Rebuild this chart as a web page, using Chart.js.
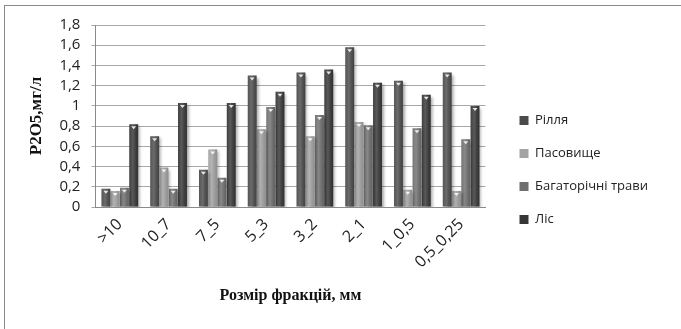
<!DOCTYPE html>
<html>
<head>
<meta charset="utf-8">
<script src="https://cdn.jsdelivr.net/npm/chart.js@4"></script>
<style>
  html, body { margin: 0; padding: 0; background: #fff; }
  #wrap { position: relative; width: 681px; height: 329px; }
  #frame { position: absolute; left: 4px; top: 5px; right: -2px; bottom: -2px;
           border-left: 1px solid #8a8a8a; border-top: 1px solid #8a8a8a; pointer-events: none; }
  canvas { position: absolute; left: 0; top: 0; }
</style>
</head>
<body>
<div id="wrap">
  <canvas id="c" width="681" height="329"></canvas>
  <div id="frame"></div>
</div>
<script>
// Фракції ґрунту та вміст P2O5 за типами угідь
const fractions = ['>10', '10_7', '7_5', '5_3', '3_2', '2_1', '1_0,5', '0,5_0,25'];
const rillia      = [0.18, 0.70, 0.37, 1.30, 1.33, 1.58, 1.25, 1.33];
const pasovyshche = [0.16, 0.39, 0.57, 0.77, 0.70, 0.84, 0.17, 0.16];
const bahatorichni = [0.19, 0.18, 0.29, 0.99, 0.91, 0.81, 0.78, 0.67];
const lis         = [0.82, 1.03, 1.03, 1.14, 1.36, 1.23, 1.11, 1.00];
const yTicks = ['0', '0,2', '0,4', '0,6', '0,8', '1', '1,2', '1,4', '1,6', '1,8'];

// Тінь під стовпчиками, блік та білий трикутник на верхівці
const barStyle = {
  id: 'barStyle',
  beforeDatasetsDraw(chart) {
    const ctx = chart.ctx;
    ctx.save();
    ctx.shadowColor = 'rgba(0,0,0,0.35)';
    ctx.shadowBlur = 3;
    ctx.shadowOffsetX = 2;
    ctx.shadowOffsetY = 2;
  },
  afterDatasetsDraw(chart) {
    const ctx = chart.ctx;
    ctx.restore();
    ctx.save();
    chart.data.datasets.forEach((ds, i) => {
      chart.getDatasetMeta(i).data.forEach(bar => {
        const w = bar.width, x0 = bar.x - w / 2, top = bar.y, h = bar.base - bar.y;
        const g = ctx.createLinearGradient(x0, 0, x0 + w, 0);
        g.addColorStop(0, 'rgba(255,255,255,0.05)');
        g.addColorStop(0.4, 'rgba(255,255,255,0.18)');
        g.addColorStop(1, 'rgba(0,0,0,0.12)');
        ctx.fillStyle = g;
        ctx.fillRect(x0, top, w, h);
        ctx.fillStyle = 'rgba(255,255,255,0.85)';
        ctx.beginPath();
        ctx.moveTo(bar.x - 2.5, top + 2);
        ctx.lineTo(bar.x + 2.5, top + 2);
        ctx.lineTo(bar.x, top + 5);
        ctx.closePath();
        ctx.fill();
      });
    });
    ctx.restore();
  }
};

// Легенду трохи відсуваємо праворуч і вниз від області графіка
const legendShift = {
  id: 'legendShift',
  afterLayout(chart) {
    const lg = chart.legend;
    if (!lg) return;
    const dx = 14, dy = 3;
    lg.left += dx; lg.right += dx;
    lg.top += dy; lg.bottom += dy;
    if (lg.legendHitBoxes) lg.legendHitBoxes.forEach(b => { b.left += dx; b.top += dy; });
  }
};

new Chart(document.getElementById('c'), {
  type: 'bar',
  data: {
    labels: fractions,
    datasets: [
      { label: 'Рілля', data: rillia, backgroundColor: '#4b4b4b' },
      { label: 'Пасовище', data: pasovyshche, backgroundColor: '#a3a3a3' },
      { label: 'Багаторічні трави', data: bahatorichni, backgroundColor: '#6f6f6f' },
      { label: 'Ліс', data: lis, backgroundColor: '#363636' }
    ]
  },
  options: {
    responsive: false,
    animation: false,
    devicePixelRatio: 1,
    datasets: { bar: { categoryPercentage: 0.76, barPercentage: 0.96 } },
    layout: { padding: { left: 22, top: 25, right: 41, bottom: 20 } },
    plugins: {
      tooltip: { enabled: false },
      legend: {
        position: 'right',
        align: 'center',
        labels: {
          boxWidth: 9, boxHeight: 9, padding: 20,
          color: '#222',
          font: { family: 'Open Sans', size: 13 }
        }
      }
    },
    scales: {
      x: {
        grid: { display: false, drawTicks: false },
        border: { color: '#8a8a8a' },
        ticks: {
          maxRotation: 45, minRotation: 45, padding: 8, autoSkip: false,
          color: '#222',
          font: { family: 'Open Sans', size: 16 }
        },
        title: {
          display: true, text: 'Розмір фракцій, мм',
          color: '#111', padding: { top: 6 },
          font: { family: 'Liberation Serif', size: 16, weight: 'bold' }
        }
      },
      y: {
        min: 0, max: 1.8,
        grid: { color: '#a8a8a8', tickLength: 4 },
        border: { color: '#8a8a8a' },
        ticks: {
          stepSize: 0.2, padding: 11, autoSkip: false, color: '#222',
          font: { family: 'Open Sans', size: 15 },
          callback: (v, i) => yTicks[i]
        },
        title: {
          display: true, text: 'P2O5,мг/л',
          color: '#111', padding: { bottom: 2 },
          font: { family: 'Liberation Serif', size: 17, weight: 'bold' }
        }
      }
    }
  },
  plugins: [barStyle, legendShift]
});
</script>
</body>
</html>
